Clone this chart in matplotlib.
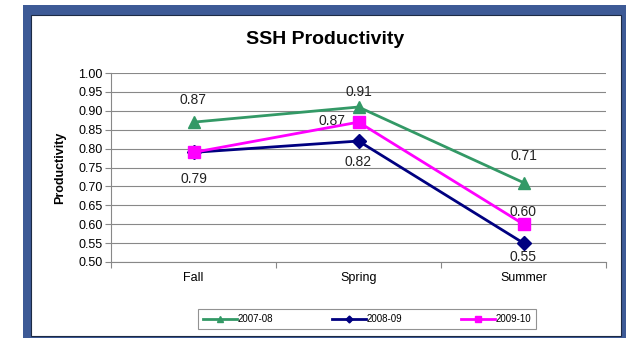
import matplotlib
matplotlib.use("Agg")
import matplotlib.pyplot as plt
from matplotlib.patches import Rectangle

plt.rcParams['font.family'] = ['Liberation Sans', 'DejaVu Sans']

terms = ["Fall", "Spring", "Summer"]
series_names = ["2007-08", "2008-09", "2009-10"]
vals_0708 = [0.87, 0.91, 0.71]
vals_0809 = [0.79, 0.82, 0.55]
vals_0910 = [0.79, 0.87, 0.60]
yticks = [0.50, 0.55, 0.60, 0.65, 0.70, 0.75, 0.80, 0.85, 0.90, 0.95, 1.00]

fig = plt.figure(figsize=(6.26, 3.40), dpi=100)
W, H = 626, 340

# blue slide frame
fig.patches.append(Rectangle((23 / W, 1 - 338 / H), (626 - 23) / W, (338 - 5) / H,
                             transform=fig.transFigure, facecolor="#3d5a96",
                             edgecolor="none", zorder=-2))
fig.patches.append(Rectangle((31 / W, 1 - 336 / H), (621 - 31) / W, (336 - 15) / H,
                             transform=fig.transFigure, facecolor="white",
                             edgecolor="#1c2a44", linewidth=0.8, zorder=-1))

ax = fig.add_axes([111 / W, 1 - 262 / H, (606 - 111) / W, (262 - 73) / H])
ax.set_facecolor("none")
x = list(range(len(terms)))

ax.plot(x, vals_0708, color="#339966", lw=2, marker="^", ms=9, label=series_names[0], zorder=3)
ax.plot(x, vals_0809, color="#000080", lw=2, marker="D", ms=7, label=series_names[1], zorder=3)
ax.plot(x, vals_0910, color="#ff00ff", lw=2, marker="s", ms=9, label=series_names[2], zorder=4)

lab = dict(fontsize=10, ha="center", va="center", textcoords="offset points", color="#222222")
# 2007-08 labels above
for xi, v, dy in zip(x, vals_0708, [16, 11, 19]):
    ax.annotate(f"{v:.2f}", (xi, v), xytext=(0, dy), **lab)
# 2008-09 labels below
for xi, v, dy in zip(x, vals_0809, [-19, -15, -10]):
    ax.annotate(f"{v:.2f}", (xi, v), xytext=(0, dy), **lab)
# 2009-10 labels (Fall hidden behind 2008-09)
ax.annotate(f"{vals_0910[1]:.2f}", (1, vals_0910[1]), xytext=(-19, 1), **lab)
ax.annotate(f"{vals_0910[2]:.2f}", (2, vals_0910[2]), xytext=(0, 9), **lab)

ax.set_xlim(-0.5, 2.5)
ax.set_ylim(0.5, 1.0)
ax.set_yticks(yticks)
ax.set_yticklabels([f"{t:.2f}" for t in yticks], fontsize=9)
ax.yaxis.grid(True, color="#888888", lw=0.8)
ax.set_axisbelow(True)
ax.set_xticks([-0.5, 0.5, 1.5, 2.5])
ax.set_xticklabels([])
ax.set_xticks(x, minor=True)
ax.set_xticklabels(terms, minor=True, fontsize=9)
ax.tick_params(axis="x", which="minor", length=0, pad=7)
ax.tick_params(axis="x", which="major", length=4, color="#888888")
ax.tick_params(axis="y", length=4, color="#888888", pad=2)
for s in ["top", "right"]:
    ax.spines[s].set_visible(False)
for s in ["left", "bottom"]:
    ax.spines[s].set_color("#888888")

ax.set_ylabel("Productivity", fontsize=9, fontweight="bold", labelpad=9)
fig.text(325 / W, 1 - 40 / H, "SSH Productivity", fontsize=14, fontweight="bold",
         ha="center", va="center")

leg = fig.legend(loc="center", bbox_to_anchor=(367 / W, 1 - 319 / H), ncol=3,
                 fontsize=7, frameon=True, fancybox=False, edgecolor="#777777",
                 columnspacing=6.0, handlelength=3.5, handletextpad=0.1,
                 borderpad=0.5, borderaxespad=0, markerscale=0.5)
leg.get_frame().set_linewidth(0.8)
leg.set_zorder(5)

fig.savefig("out.png", dpi=100)
